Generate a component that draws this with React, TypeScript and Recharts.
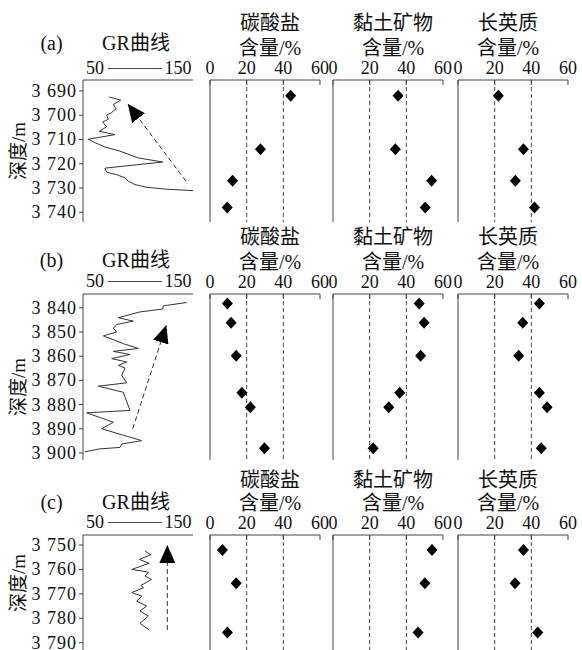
import React from 'react';
import { ScatterChart, Scatter, XAxis, YAxis, ReferenceLine } from 'recharts';

// ---------- data ----------
const rowLabels = ['(a)', '(b)', '(c)'];
const grTitle = 'GR曲线';
const grMin = 50;
const grMax = 150;
const mineralTitles = ['碳酸盐', '黏土矿物', '长英质'];
const unitLabel = '含量/%';
const depthLabel = '深度/m';
const contentTicks = [0, 20, 40, 60];
const dashedAt = [20, 40];

// row (a)
const depthTicksA = [3690, 3700, 3710, 3720, 3730, 3740];
const depthDomainA = [3685.5, 3744];
const sampleDepthA = [3692, 3714, 3727, 3738];
const carbA = [44, 27.5, 12.3, 9.4];
const clayA = [35.5, 34, 53.8, 50.3];
const quartzA = [22, 35.7, 31.3, 41.7];
const grDepthA = [3692.5, 3693.8, 3695.6, 3697.3, 3698.9, 3700, 3701.7, 3702.8, 3704.8, 3706.6, 3708, 3709.9, 3711.3, 3713.1, 3714.8, 3717.6, 3719.3, 3721.8, 3723.5, 3724.5, 3725.8, 3727.2, 3728.6, 3729.7, 3730.5, 3731.1];
const grValA = [73.9, 84.3, 77.6, 80, 76.1, 71.5, 73, 67.9, 71.5, 64.8, 79.1, 54.8, 60.9, 70, 83.6, 100.3, 122.5, 70, 71.5, 80.6, 88.2, 91.2, 97.3, 107.9, 126.1, 150];
const arrowGrA = [143.6, 91.2];
const arrowDepthA = [3727.2, 3695.6];

// row (b)
const depthTicksB = [3840, 3850, 3860, 3870, 3880, 3890, 3900];
const depthDomainB = [3834.3, 3902.9];
const sampleDepthB = [3838.2, 3846.2, 3859.8, 3875.1, 3881.1, 3898];
const carbB = [9.5, 11.5, 14.3, 17.4, 22, 29.7];
const clayB = [47, 49.7, 47.8, 36.4, 30.4, 21.9];
const quartzB = [44.4, 35.3, 33.1, 44.4, 48.6, 45.4];
const grDepthB = [3837.8, 3839.2, 3840.5, 3841.7, 3844.1, 3845.5, 3846.9, 3848.5, 3850, 3851.6, 3854.8, 3856.8, 3858, 3859.3, 3861, 3862.4, 3863.8, 3864.9, 3867.9, 3871, 3872.4, 3874.9, 3876.9, 3882.4, 3883.4, 3887.3, 3890, 3894.9, 3896.3, 3897.7, 3898.3, 3899.5];
const grValB = [144.3, 123, 122.5, 101.8, 82.1, 95.7, 80.6, 77.6, 80.6, 68.5, 86.6, 100.3, 77.6, 92.7, 76.1, 89.7, 82.1, 88.2, 85.2, 89.7, 63.9, 86.6, 88.2, 92.7, 53.3, 77.6, 67, 103.4, 85.2, 83.6, 65.5, 51.8];
const arrowGrB = [95.2, 125.5];
const arrowDepthB = [3890, 3847.5];

// row (c)
const depthTicksC = [3750, 3760, 3770, 3780, 3790];
const depthDomainC = [3745.9, 3793];
const sampleDepthC = [3752, 3765.7, 3785.8];
const carbC = [6.8, 14.3, 9.5];
const clayC = [54, 50.1, 46.4];
const quartzC = [35.7, 31.1, 43.5];
const grDepthC = [3752.5, 3754, 3755.9, 3757.5, 3760, 3761.1, 3762.7, 3764.1, 3766.6, 3767.5, 3769.5, 3770.9, 3773, 3775, 3777, 3779.1, 3782.1, 3784.8];
const grValC = [106.4, 111.5, 101.2, 110.3, 94.3, 109.4, 106.4, 112.4, 102.5, 105, 94.3, 103.4, 98.8, 107.9, 101.8, 109.4, 101.8, 110.3];
const arrowGrC = [126.7, 126.7];
const arrowDepthC = [3784.8, 3750.4];

// ---------- styles / layout ----------
const SERIF = '"Liberation Serif", "Times New Roman", "Noto Sans CJK SC", serif';
const AX = '#444';
const PANEL_W = 110;
const GR_LEFT = 83;
const panelLefts = [210, 333, 458];
const titleCenters = [270, 393, 508];

const rows = [
  { label: rowLabels[0], axisTop: 80, bottom: 222, t1: 23, t2: 47.5, labY: 43, legY: 67.5, dlY: 151,
    ticks: depthTicksA, domain: depthDomainA, depths: sampleDepthA, minerals: [carbA, clayA, quartzA],
    grDepth: grDepthA, grVal: grValA, arrowGr: arrowGrA, arrowDepth: arrowDepthA },
  { label: rowLabels[1], axisTop: 294, bottom: 460, t1: 237, t2: 261.5, labY: 260, legY: 281, dlY: 387,
    ticks: depthTicksB, domain: depthDomainB, depths: sampleDepthB, minerals: [carbB, clayB, quartzB],
    grDepth: grDepthB, grVal: grValB, arrowGr: arrowGrB, arrowDepth: arrowDepthB },
  { label: rowLabels[2], axisTop: 535, bottom: 650, t1: 480, t2: 502.5, labY: 502, legY: 522, dlY: 583,
    ticks: depthTicksC, domain: depthDomainC, depths: sampleDepthC, minerals: [carbC, clayC, quartzC],
    grDepth: grDepthC, grVal: grValC, arrowGr: arrowGrC, arrowDepth: arrowDepthC },
];

const Txt = ({ x, y, size, children, rotate }: any) => (
  <div style={{
    position: 'absolute', left: x, top: y, whiteSpace: 'nowrap', lineHeight: 1,
    fontSize: size, fontFamily: SERIF, color: '#111',
    transform: `translate(-50%, -50%)${rotate ? ` rotate(${rotate}deg)` : ''}`,
  }}>{children}</div>
);

const Diamond = (p: any) => {
  const { cx, cy } = p;
  if (cx == null || cy == null) return <g />;
  return <polygon points={`${cx},${cy - 6} ${cx + 5.5},${cy} ${cx},${cy + 6} ${cx - 5.5},${cy}`} fill="#000" />;
};

const TopTick = (p: any) => {
  const { x, y, payload } = p;
  return (
    <g>
      <line x1={x} x2={x} y1={y + 6} y2={y + 11} stroke={AX} />
      <text x={x} y={y - 0.5} textAnchor="middle" fontSize={18} fontFamily={SERIF} fill="#111">{payload.value}</text>
    </g>
  );
};

const fmtDepth = (v: number) => `${Math.floor(v / 1000)} ${String(v % 1000).padStart(3, '0')}`;

const DepthTick = (p: any) => {
  const { x, y, payload } = p;
  return (
    <text x={x} y={y + 6} textAnchor="end" fontSize={18} fontFamily={SERIF} fill="#111" letterSpacing={1}>
      {fmtDepth(payload.value)}
    </text>
  );
};

const Empty = () => <g />;

function MineralPanel({ depths, values, left, top, bottom, domain }: any) {
  const data = depths.map((d: number, i: number) => ({ v: values[i], d }));
  const mt = 25, ml = 20, mr = 20;
  return (
    <div style={{ position: 'absolute', left: left - ml, top: top - mt }}>
      <ScatterChart width={PANEL_W + ml + mr} height={bottom - top + mt} margin={{ top: mt - 1, left: ml - 1, right: mr, bottom: 0 }}>
        <XAxis type="number" dataKey="v" domain={[0, 60]} ticks={contentTicks} interval={0} orientation="top"
          height={1} tickSize={0} tickMargin={6} tickLine={false} axisLine={{ stroke: AX }} tick={<TopTick />} allowDataOverflow />
        <YAxis type="number" dataKey="d" domain={domain} reversed width={1} tick={false} tickLine={false}
          axisLine={{ stroke: AX }} allowDataOverflow />
        {dashedAt.map((v) => (
          <ReferenceLine key={v} x={v} stroke={AX} strokeDasharray="4 3" />
        ))}
        <Scatter data={data} shape={<Diamond />} isAnimationActive={false} />
      </ScatterChart>
    </div>
  );
}

function GRPanel({ row, idx }: any) {
  const curve = row.grDepth.map((d: number, i: number) => ({ g: row.grVal[i], d }));
  const arrow = row.arrowDepth.map((d: number, i: number) => ({ g: row.arrowGr[i], d }));
  const mt = 5;
  const mb = 10;
  const mid = `arrowHead${idx}`;
  return (
    <div style={{ position: 'absolute', left: 0, top: row.axisTop - mt }}>
      <ScatterChart width={GR_LEFT + PANEL_W + 7} height={row.bottom - row.axisTop + mt + mb} margin={{ top: mt - 1, left: 0, right: 7, bottom: mb }}>
        <defs>
          <marker id={mid} viewBox="0 0 18 16" refX="17" refY="8" markerWidth="18" markerHeight="16" markerUnits="userSpaceOnUse" orient="auto">
            <path d="M0,0 L18,8 L0,16 z" fill="#000" />
          </marker>
        </defs>
        <XAxis type="number" dataKey="g" domain={[grMin, grMax]} orientation="top" height={1} tick={false}
          tickLine={false} axisLine={{ stroke: AX }} allowDataOverflow />
        <YAxis type="number" dataKey="d" domain={row.domain} reversed ticks={row.ticks} interval={0} width={GR_LEFT}
          tickSize={4} tickMargin={2} tick={<DepthTick />} tickLine={{ stroke: AX }} axisLine={{ stroke: AX }} allowDataOverflow />
        <Scatter data={curve} line={{ stroke: '#333', strokeWidth: 1 }} shape={<Empty />} isAnimationActive={false} />
        <Scatter data={arrow} line={{ stroke: '#333', strokeWidth: 1, strokeDasharray: '5 3', markerEnd: `url(#${mid})` }}
          shape={<Empty />} isAnimationActive={false} />
      </ScatterChart>
    </div>
  );
}

export default function App() {
  return (
    <div style={{ position: 'absolute', left: 0, top: 0, width: 582, height: 650, background: '#fff', overflow: 'hidden', fontFamily: SERIF }}>
      {rows.map((row, idx) => (
        <React.Fragment key={row.label}>
          <Txt x={51.5} y={row.labY} size={20}>{row.label}</Txt>
          <Txt x={136} y={row.labY} size={20}>{grTitle}</Txt>
          <Txt x={95} y={row.legY} size={18}>{grMin}</Txt>
          <div style={{ position: 'absolute', left: 108, top: row.legY, width: 54, height: 0, borderTop: `1px solid ${AX}` }} />
          <Txt x={178} y={row.legY} size={18}>{grMax}</Txt>
          <Txt x={18} y={row.dlY} size={19} rotate={-90}>{depthLabel}</Txt>
          {mineralTitles.map((t, k) => (
            <React.Fragment key={t}>
              <Txt x={titleCenters[k]} y={row.t1} size={20}>{t}</Txt>
              <Txt x={titleCenters[k]} y={row.t2} size={20}>{unitLabel}</Txt>
            </React.Fragment>
          ))}
          <GRPanel row={row} idx={idx} />
          {row.minerals.map((vals, k) => (
            <MineralPanel key={k} depths={row.depths} values={vals} left={panelLefts[k]}
              top={row.axisTop} bottom={row.bottom} domain={row.domain} />
          ))}
        </React.Fragment>
      ))}
    </div>
  );
}
